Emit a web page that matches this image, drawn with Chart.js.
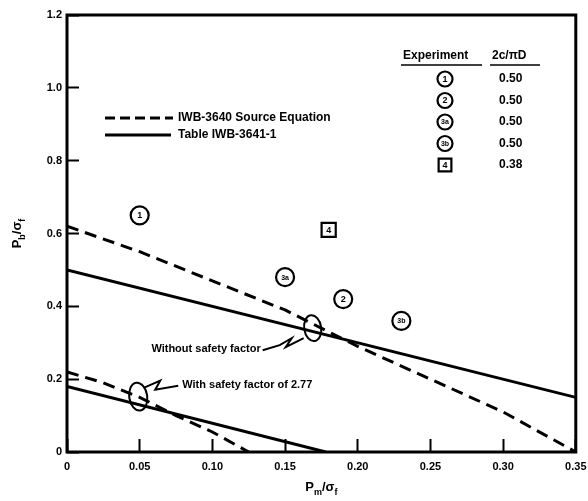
<!DOCTYPE html>
<html>
<head>
<meta charset="utf-8">
<script src="https://cdn.jsdelivr.net/npm/chart.js@4.4.0/dist/chart.umd.min.js"></script>
<style>
  html, body { margin: 0; padding: 0; background: #fff; }
</style>
</head>
<body>
<canvas id="chart" width="588" height="501"></canvas>
<script>
// IWB-3640 source equation, without / with safety factor (dashed)
const srcX = [0, 0.05, 0.10, 0.15, 0.20, 0.25, 0.30, 0.35];
const srcY = [0.62, 0.55, 0.47, 0.39, 0.29, 0.20, 0.11, 0.0];
const srcSfX = [0, 0.025, 0.05, 0.075, 0.10, 0.125];
const srcSfY = [0.22, 0.19, 0.15, 0.10, 0.055, 0.0];

// Table IWB-3641-1 (solid)
const tblX = [0, 0.35];
const tblY = [0.50, 0.15];
const tblSfX = [0, 0.178];
const tblSfY = [0.18, 0.0];

// experiments
const expIds = ['1', '2', '3a', '3b', '4'];
const expX = [0.05, 0.19, 0.15, 0.23, 0.18];
const expY = [0.65, 0.42, 0.48, 0.36, 0.61];
const expRatio = ['0.50', '0.50', '0.50', '0.50', '0.38'];

const xTickLabels = ['0', '0.05', '0.10', '0.15', '0.20', '0.25', '0.30', '0.35'];
const yTickLabels = ['0', '0.2', '0.4', '0.6', '0.8', '1.0', '1.2'];

const FONT = '"Liberation Sans", Arial, sans-serif';
const pts = (xs, ys) => xs.map((x, i) => ({ x, y: ys[i] }));

function marker(ctx, id, cx, cy, r) {
  ctx.save();
  ctx.lineWidth = 2.2;
  ctx.strokeStyle = '#000';
  ctx.fillStyle = '#fff';
  ctx.beginPath();
  if (id === '4') {
    ctx.rect(cx - r * 0.85, cy - r * 0.85, r * 1.7, r * 1.7);
  } else {
    ctx.arc(cx, cy, r, 0, Math.PI * 2);
  }
  ctx.fill();
  ctx.stroke();
  ctx.fillStyle = '#000';
  ctx.font = `bold ${id.length > 1 ? 7 : 9}px ${FONT}`;
  ctx.textAlign = 'center';
  ctx.textBaseline = 'middle';
  ctx.fillText(id, cx, cy + 0.5);
  ctx.restore();
}

// subscripted label: P_sub / σ_f
function subLabel(ctx, x, y, sub, angle) {
  ctx.save();
  ctx.translate(x, y);
  ctx.rotate(angle);
  ctx.fillStyle = '#000';
  ctx.textBaseline = 'alphabetic';
  ctx.textAlign = 'left';
  const big = `bold 13px ${FONT}`, small = `bold 9px ${FONT}`;
  const parts = [['P', big, 0], [sub, small, 4], ['/σ', big, 0], ['f', small, 4]];
  let w = 0;
  parts.forEach(([t, f]) => { ctx.font = f; w += ctx.measureText(t).width; });
  let cx = -w / 2;
  parts.forEach(([t, f, dy]) => {
    ctx.font = f;
    ctx.fillText(t, cx, 4 + dy);
    cx += ctx.measureText(t).width;
  });
  ctx.restore();
}

const decorations = {
  id: 'decorations',
  afterDatasetsDraw(chart) {
    const { ctx, chartArea: a, scales: { x, y } } = chart;

    // frame
    ctx.save();
    ctx.strokeStyle = '#000';
    ctx.lineWidth = 3;
    ctx.strokeRect(a.left, a.top, a.right - a.left, a.bottom - a.top);
    ctx.restore();

    // labels inside the experiment markers
    const meta = chart.getDatasetMeta(4);
    meta.data.forEach((el, i) => {
      const id = expIds[i];
      ctx.save();
      ctx.fillStyle = '#000';
      ctx.font = `bold ${id.length > 1 ? 7 : 9}px ${FONT}`;
      ctx.textAlign = 'center';
      ctx.textBaseline = 'middle';
      ctx.fillText(id, el.x, el.y + 0.5);
      ctx.restore();
    });

    ctx.save();
    ctx.strokeStyle = '#000';
    ctx.fillStyle = '#000';
    ctx.lineWidth = 2;

    // callouts: ellipse + squiggle + text
    const callouts = [
      { at: [0.169, 0.34], rx: 8.5, ry: 13,
        path: [[-9, 10], [-27, 19], [-21, 10], [-33, 17], [-50, 22]],
        text: 'Without safety factor', tx: -52, ty: 21, align: 'right' },
      { at: [0.049, 0.152], rx: 9, ry: 14,
        path: [[6, -9], [22, -16], [17, -7], [40, -11]],
        text: 'With safety factor of 2.77', tx: 44, ty: -12, align: 'left' }
    ];
    callouts.forEach(c => {
      const cx = x.getPixelForValue(c.at[0]);
      const cy = y.getPixelForValue(c.at[1]);
      ctx.beginPath();
      ctx.ellipse(cx, cy, c.rx, c.ry, -0.15, 0, Math.PI * 2);
      ctx.stroke();
      ctx.beginPath();
      c.path.forEach(([dx, dy], i) => i ? ctx.lineTo(cx + dx, cy + dy) : ctx.moveTo(cx + dx, cy + dy));
      ctx.stroke();
      ctx.font = `bold 11px ${FONT}`;
      ctx.textAlign = c.align;
      ctx.textBaseline = 'middle';
      ctx.fillText(c.text, cx + c.tx, cy + c.ty);
    });

    // line legend
    ctx.lineWidth = 3;
    ctx.setLineDash([10, 5]);
    ctx.beginPath(); ctx.moveTo(105, 118); ctx.lineTo(173, 118); ctx.stroke();
    ctx.setLineDash([]);
    ctx.beginPath(); ctx.moveTo(105, 135); ctx.lineTo(171, 135); ctx.stroke();
    ctx.font = `bold 12px ${FONT}`;
    ctx.textAlign = 'left';
    ctx.textBaseline = 'middle';
    ctx.fillText('IWB-3640 Source Equation', 178, 118);
    ctx.fillText('Table IWB-3641-1', 178, 135);

    // experiment table
    ctx.font = `bold 12px ${FONT}`;
    ctx.fillText('Experiment', 403, 56);
    ctx.fillText('2c/πD', 492, 56);
    ctx.lineWidth = 1.5;
    ctx.beginPath();
    ctx.moveTo(401, 65); ctx.lineTo(482, 65);
    ctx.moveTo(490, 65); ctx.lineTo(540, 65);
    ctx.stroke();
    ctx.restore();

    expIds.forEach((id, i) => {
      const ry = 79 + i * 21.5;
      marker(ctx, id, 445, ry, 7.5);
      ctx.save();
      ctx.fillStyle = '#000';
      ctx.font = `bold 12px ${FONT}`;
      ctx.textAlign = 'left';
      ctx.textBaseline = 'middle';
      ctx.fillText(expRatio[i], 499, ry);
      ctx.restore();
    });

    // axis titles
    subLabel(ctx, (a.left + a.right) / 2, 487, 'm', 0);
    subLabel(ctx, 17, (a.top + a.bottom) / 2, 'b', -Math.PI / 2);
  }
};

const lineDs = (data, dashed) => ({
  data,
  showLine: true,
  borderColor: '#000',
  borderWidth: 3,
  borderDash: dashed ? [12, 7] : [],
  pointRadius: 0,
  fill: false
});

new Chart(document.getElementById('chart'), {
  type: 'scatter',
  data: {
    datasets: [
      lineDs(pts(srcX, srcY), true),
      lineDs(pts(tblX, tblY), false),
      lineDs(pts(srcSfX, srcSfY), true),
      lineDs(pts(tblSfX, tblSfY), false),
      {
        data: pts(expX, expY),
        pointStyle: expIds.map(id => id === '4' ? 'rect' : 'circle'),
        pointRadius: expIds.map(id => id === '4' ? 10 : 9),
        pointBorderWidth: 2.2,
        borderColor: '#000',
        backgroundColor: '#fff',
        pointBackgroundColor: '#fff',
        pointBorderColor: '#000'
      }
    ]
  },
  options: {
    responsive: false,
    animation: false,
    events: [],
    layout: { padding: { top: 15, right: 12, left: 0, bottom: 0 } },
    plugins: { legend: { display: false }, tooltip: { enabled: false } },
    scales: {
      x: {
        type: 'linear',
        min: 0, max: 0.35,
        border: { display: false },
        grid: { drawOnChartArea: false, tickLength: -13, tickWidth: 2, tickColor: '#000' },
        ticks: {
          stepSize: 0.05,
          padding: 21,
          color: '#000',
          font: { family: FONT, size: 11, weight: 'bold' },
          maxRotation: 0,
          autoSkip: false,
          callback: (v, i) => xTickLabels[i]
        },
        afterFit: s => { s.height = 49; s.paddingLeft = 0; s.paddingRight = 0; }
      },
      y: {
        min: 0, max: 1.2,
        border: { display: false },
        grid: { drawOnChartArea: false, tickLength: -12, tickWidth: 2, tickColor: '#000' },
        ticks: {
          stepSize: 0.2,
          padding: 17,
          color: '#000',
          font: { family: FONT, size: 11, weight: 'bold' },
          autoSkip: false,
          callback: (v, i) => yTickLabels[i]
        },
        afterFit: s => { s.width = 67; s.paddingTop = 0; s.paddingBottom = 0; }
      }
    }
  },
  plugins: [decorations]
});
</script>
</body>
</html>
